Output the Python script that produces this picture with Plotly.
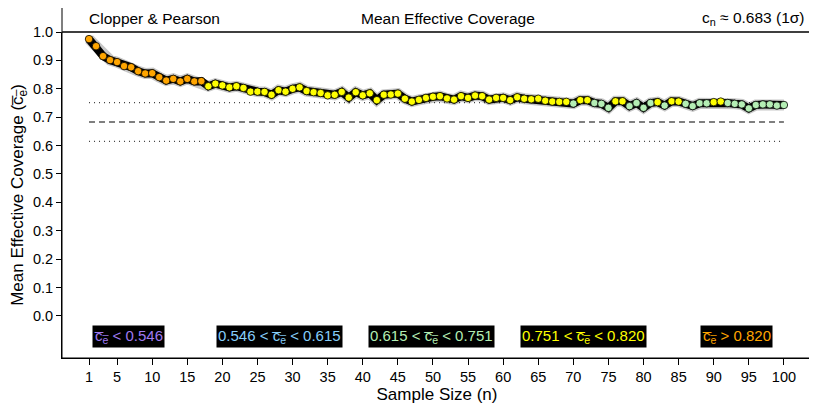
import plotly.graph_objects as go

sample_size = list(range(1, 101))
mean_coverage = [
    0.975, 0.950, 0.915, 0.901, 0.894, 0.880, 0.876, 0.862, 0.854, 0.855,
    0.841, 0.829, 0.835, 0.826, 0.835, 0.826, 0.827, 0.809, 0.818, 0.812,
    0.805, 0.809, 0.803, 0.790, 0.790, 0.789, 0.779, 0.795, 0.790, 0.800,
    0.805, 0.792, 0.788, 0.785, 0.777, 0.779, 0.789, 0.769, 0.788, 0.777,
    0.784, 0.760, 0.779, 0.780, 0.783, 0.765, 0.755, 0.761, 0.768, 0.772,
    0.774, 0.766, 0.762, 0.774, 0.768, 0.776, 0.774, 0.762, 0.768, 0.768,
    0.760, 0.770, 0.765, 0.763, 0.765, 0.758, 0.755, 0.754, 0.754, 0.748,
    0.760, 0.760, 0.750, 0.747, 0.733, 0.756, 0.756, 0.739, 0.750, 0.733,
    0.750, 0.753, 0.741, 0.756, 0.755, 0.747, 0.739, 0.749, 0.749, 0.753,
    0.755, 0.750, 0.747, 0.745, 0.731, 0.743, 0.745, 0.745, 0.741, 0.743,
]
nominal = 0.683
band_lo, band_hi = 0.615, 0.751
thresholds = [0.546, 0.615, 0.751, 0.820]
class_colors = ["#9F7AF0", "#87CEFA", "#B4EEB4", "#FFFF00", "#FFA500"]
x_ticks = [1, 5, 10, 15, 20, 25, 30, 35, 40, 45, 50, 55, 60, 65, 70, 75, 80, 85, 90, 95, 100]
y_ticks = [round(0.1 * i, 1) for i in range(11)]

def cls(v):
    for i, t in enumerate(thresholds):
        if v < t:
            return i
    return len(thresholds)

marker_colors = [class_colors[cls(v)] for v in mean_coverage]

FONT = "Liberation Sans, Arial, Helvetica, sans-serif"
fig = go.Figure()

for yv, dash, col in [(band_hi, "1px,4px", "#444444"), (band_lo, "1px,4px", "#444444"),
                      (nominal, "6px,4px", "black")]:
    fig.add_trace(go.Scatter(x=[sample_size[0], sample_size[-1]], y=[yv, yv], mode="lines",
                             line=dict(color=col, width=1.2, dash=dash),
                             hoverinfo="skip", showlegend=False))

fig.add_trace(go.Scatter(x=sample_size, y=mean_coverage, mode="lines",
                         line=dict(color="rgba(0,0,0,0.22)", width=11),
                         hoverinfo="skip", showlegend=False))
fig.add_trace(go.Scatter(x=sample_size, y=mean_coverage, mode="lines",
                         line=dict(color="black", width=8),
                         hoverinfo="skip", showlegend=False))
fig.add_trace(go.Scatter(x=sample_size, y=mean_coverage, mode="markers",
                         marker=dict(size=7.5, color=marker_colors,
                                     line=dict(color="black", width=0.8)),
                         showlegend=False))

ce = "c\u0305<sub>e\u0305</sub>"
labels = [
    f"{ce} < 0.546",
    f"0.546 < {ce} < 0.615",
    f"0.615 < {ce} < 0.751",
    f"0.751 < {ce} < 0.820",
    f"{ce} > 0.820",
]
label_x = [6.6, 28.2, 49.8, 71.4, 93.2]
for lx, txt, col in zip(label_x, labels, class_colors):
    fig.add_annotation(x=lx, y=-0.074, xref="x", yref="y", text=txt, showarrow=False,
                       bgcolor="black", font=dict(family=FONT, size=15, color=col),
                       borderpad=1)

band_top = 1 + 27 / 326
fig.add_shape(type="rect", xref="paper", yref="paper", x0=0, x1=1, y0=1, y1=band_top,
              line=dict(color="#555555", width=1.5), layer="above")
fig.add_shape(type="rect", xref="paper", yref="paper", x0=0, x1=1, y0=0, y1=1,
              line=dict(color="black", width=1), layer="above")

ymid = (1 + band_top) / 2
fig.add_annotation(x=0.7, y=ymid, xref="x", yref="paper", text="Clopper & Pearson",
                   xanchor="left", yanchor="middle", showarrow=False,
                   font=dict(family=FONT, size=15.5, color="black"))
fig.add_annotation(x=0.515, y=ymid, xref="paper", yref="paper", text="Mean Effective Coverage",
                   xanchor="center", yanchor="middle", showarrow=False,
                   font=dict(family=FONT, size=15.5, color="black"))
fig.add_annotation(x=0.993, y=ymid, xref="paper", yref="paper",
                   text="c<sub>n</sub> \u2248 0.683 (1\u03c3)",
                   xanchor="right", yanchor="middle", showarrow=False,
                   font=dict(family=FONT, size=15.5, color="black"))

fig.update_layout(
    width=817, height=409,
    margin=dict(l=54, r=13, t=24, b=59, autoexpand=False),
    paper_bgcolor="white", plot_bgcolor="white",
    font=dict(family=FONT, size=14.5, color="black"),
    xaxis=dict(range=[-2.85, 104.0], tickmode="array", tickvals=x_ticks, automargin=False,
               ticks="outside", ticklen=6, tickcolor="black", showgrid=False, zeroline=False,
               showline=True, linecolor="black", linewidth=1,
               title=dict(text="Sample Size (n)", font=dict(size=17), standoff=2),
               tickfont=dict(size=14.5)),
    yaxis=dict(range=[-0.148, 1.0], tickmode="array", tickvals=y_ticks, automargin=False,
               ticktext=[f"{v:.1f}" for v in y_ticks],
               ticks="outside", ticklen=5, tickcolor="black", showgrid=False, zeroline=False,
               showline=True, linecolor="black", linewidth=1,
               title=dict(text="Mean Effective Coverage (c\u0305<sub>e\u0305</sub>)",
                          font=dict(size=17), standoff=6),
               tickfont=dict(size=14.5)),
)

fig.write_html("out.html")
